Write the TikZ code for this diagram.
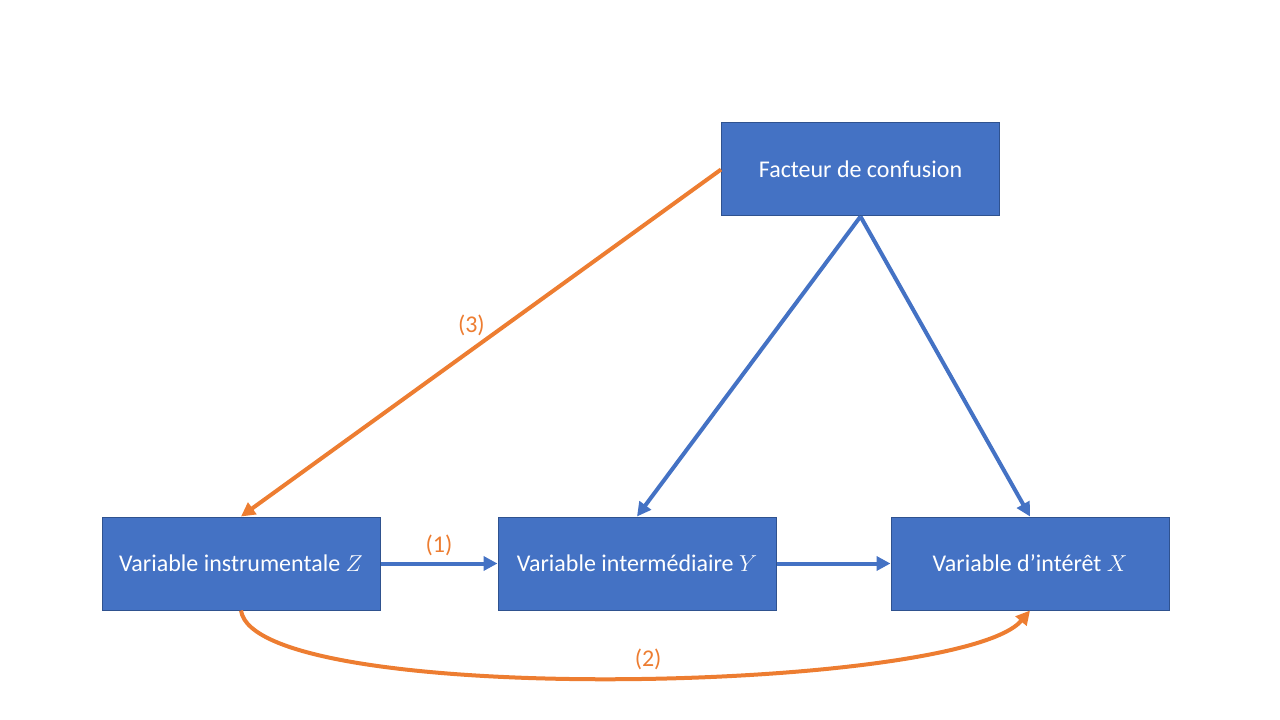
\documentclass[tikz,border=0pt]{standalone}
\usepackage{fontspec}
\setmainfont{Carlito}
\usetikzlibrary{arrows.meta}

\definecolor{boxblue}{RGB}{68,114,196}
\definecolor{boxline}{RGB}{47,82,143}
\definecolor{orangeline}{RGB}{237,125,49}

\tikzset{
    varbox/.style={draw=boxline, line width=0.75pt, fill=boxblue, text=white, minimum width=208.5pt, minimum height=69.75pt, inner sep=0pt, font=\fontsize{18}{21}\selectfont},
    bluearrow/.style={draw=boxblue, line width=3pt, -{Triangle[length=10.5pt,width=10.5pt]}},
    orangearrow/.style={draw=orangeline, line width=3pt, -{Triangle[length=10.5pt,width=10.5pt]}},
    numlabel/.style={text=orangeline, font=\fontsize{18}{21}\selectfont}
}

\begin{document}
\begin{tikzpicture}[x=0.75pt,y=0.75pt,yscale=-1]
    \useasboundingbox (0,0) rectangle (1280,720);

    \node [varbox] (conf) at (860.5,169.5) {Facteur de confusion};
    \node [varbox] (instr) at (241,563.5) {Variable instrumentale~$Z$};
    \node [varbox] (inter) at (637,563.5) {Variable intermédiaire~$Y$};
    \node [varbox] (inter-x) at (1030,563.5) {Variable d’intérêt~$X$};

    \draw [bluearrow] (conf.south) -- (inter.north);
    \draw [bluearrow] (conf.south) -- (inter-x.north);
    \draw [bluearrow] (instr.east) -- node [numlabel, above=1pt] {(1)} (inter.west);
    \draw [bluearrow] (inter.east) -- (inter-x.west);

    \draw [orangearrow] (conf.west) -- node [numlabel, pos=0.52, above=6pt] {(3)} (instr.north);
    \draw [orangearrow] (instr.south) .. controls (255,708) and (960,693) .. node [numlabel, pos=0.53, above=1pt] {(2)} (inter-x.south);

\end{tikzpicture}
\end{document}
